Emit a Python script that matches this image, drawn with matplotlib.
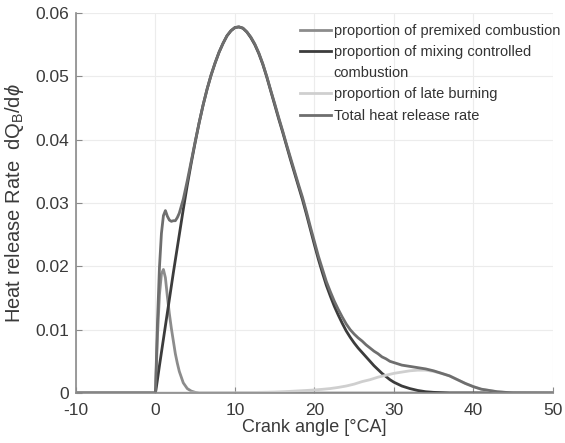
import matplotlib
matplotlib.use("Agg")
import matplotlib.pyplot as plt
from matplotlib.lines import Line2D

plt.rcParams['font.family'] = ['Liberation Sans', 'DejaVu Sans']
plt.rcParams['mathtext.fontset'] = 'custom'
plt.rcParams['mathtext.rm'] = 'Liberation Sans'
plt.rcParams['mathtext.it'] = 'Liberation Sans:italic'
plt.rcParams['axes.unicode_minus'] = False

# crank angle grids (deg CA)
x_main = [-10, 0, 0.25, 0.5, 0.75, 1, 1.25, 1.5, 1.75, 2, 2.25, 2.5, 2.75, 3,
          3.5, 4, 4.5, 5, 5.5, 6, 6.5, 7, 7.5, 8, 8.5, 9, 9.5, 10, 10.5, 11,
          11.5, 12, 12.5, 13, 13.5, 14, 14.5, 15, 15.5, 16, 16.5, 17, 17.5,
          18, 18.5, 19, 19.5, 20, 20.5, 21, 21.5, 22, 22.5, 23, 23.5, 24,
          24.5, 25, 25.5, 26, 26.5, 27, 27.5, 28, 28.5, 29, 29.5, 30, 31, 32,
          33, 34, 35, 36, 37, 38, 39, 40, 41, 42, 43, 44, 45, 50]

# mixing controlled combustion
mixing = [0, 0, 0.0021, 0.0043, 0.0064, 0.0085, 0.0106, 0.0127, 0.0148, 0.0169,
          0.0190, 0.0210, 0.0230, 0.0250, 0.0290, 0.0328, 0.0363, 0.0396,
          0.0427, 0.0455, 0.0480, 0.0502, 0.0521, 0.0538, 0.0552, 0.0564,
          0.0572, 0.0577, 0.0578, 0.0576, 0.0570, 0.0561, 0.0550, 0.0536,
          0.0519, 0.0499, 0.0477, 0.0455, 0.0433, 0.0412, 0.0390, 0.0368,
          0.0347, 0.0326, 0.0305, 0.0282, 0.0258, 0.0234, 0.0211, 0.0190,
          0.0170, 0.0153, 0.0137, 0.0123, 0.0110, 0.0098, 0.0088, 0.0079,
          0.0071, 0.0064, 0.0057, 0.0050, 0.0043, 0.0037, 0.0031, 0.0026,
          0.0021, 0.0017, 0.0011, 0.0007, 0.0004, 0.0002, 0.0001, 0.00005,
          0, 0, 0, 0, 0, 0, 0, 0, 0, 0]

# total heat release rate
total = [0, 0, 0.0111, 0.0198, 0.0252, 0.0280, 0.0288, 0.0279, 0.0273, 0.0271,
         0.0272, 0.0272, 0.0277, 0.0284, 0.0306, 0.0335, 0.0366, 0.0397,
         0.0427, 0.0455, 0.0480, 0.0502, 0.0521, 0.0538, 0.0552, 0.0564,
         0.0572, 0.0577, 0.0578, 0.0576, 0.0570, 0.0562, 0.0551, 0.0537,
         0.0520, 0.0500, 0.0478, 0.0457, 0.0435, 0.0414, 0.0392, 0.0371,
         0.0350, 0.0329, 0.0309, 0.0286, 0.0262, 0.0239, 0.0216, 0.0196,
         0.0176, 0.0160, 0.0145, 0.0132, 0.0120, 0.0109, 0.0100, 0.0093,
         0.0087, 0.0082, 0.0076, 0.0071, 0.0066, 0.0062, 0.0057, 0.0054,
         0.0050, 0.0048, 0.0044, 0.0042, 0.0040, 0.0038, 0.0035, 0.0031,
         0.0027, 0.0021, 0.0015, 0.0010, 0.0006, 0.0004, 0.0002, 0.0001,
         0.00003, 0]

# premixed combustion
x_pre = [-10, 0, 0.25, 0.5, 0.75, 1, 1.25, 1.5, 1.75, 2, 2.25, 2.5, 2.75, 3,
         3.5, 4, 4.5, 5, 5.5, 6, 50]
premixed = [0, 0, 0.0090, 0.0155, 0.0188, 0.0195, 0.0182, 0.0152, 0.0125,
            0.0102, 0.0082, 0.0062, 0.0047, 0.0034, 0.0016, 0.0007, 0.0003,
            0.0001, 0, 0, 0]

# late burning
x_late = [-10, 10, 12, 13, 14, 15, 16, 17, 18, 19, 20, 21, 22, 23, 24, 25, 26,
          27, 28, 29, 30, 31, 32, 33, 34, 35, 36, 37, 38, 39, 40, 41, 42, 43,
          44, 45, 50]
late = [0, 0, 0.00005, 0.0001, 0.00012, 0.00015, 0.0002, 0.00026, 0.00033,
        0.0004, 0.00048, 0.00058, 0.0007, 0.00088, 0.0011, 0.0014, 0.0018,
        0.0021, 0.0025, 0.0028, 0.0031, 0.0033, 0.0035, 0.0036, 0.0036,
        0.0034, 0.0031, 0.0027, 0.0021, 0.0015, 0.0010, 0.0006, 0.0004,
        0.0002, 0.0001, 0.00003, 0]

xticks = [-10, 0, 10, 20, 30, 40, 50]
yticks = [0, 0.01, 0.02, 0.03, 0.04, 0.05, 0.06]
ytick_labels = ['0', '0.01', '0.02', '0.03', '0.04', '0.05', '0.06']

fig = plt.figure(figsize=(5.65, 4.43), dpi=100)
ax = fig.add_axes([0.1345, 0.1129, 0.844, 0.8578])

lw = 2.0
l1, = ax.plot(x_pre, premixed, color='#8c8c8c', lw=lw)
l2, = ax.plot(x_main, mixing, color='#3c3c3c', lw=lw)
l3, = ax.plot(x_late, late, color='#cfcfcf', lw=lw)
l4, = ax.plot(x_main, total, color='#6e6e6e', lw=lw)

ax.set_xlim(-10, 50)
ax.set_ylim(0, 0.06)
ax.set_xticks(xticks)
ax.set_yticks(yticks)
ax.set_yticklabels(ytick_labels)
ax.grid(True, color='#ececec', lw=0.8)
ax.set_axisbelow(True)

for s in ['top', 'right']:
    ax.spines[s].set_visible(False)
for s in ['left', 'bottom']:
    ax.spines[s].set_color('#8a8a8a')
    ax.spines[s].set_linewidth(1.2)
ax.tick_params(direction='in', length=4, color='#8a8a8a', labelsize=12.5,
               labelcolor='#3a3a3a')
ax.tick_params(axis='x', pad=7)
ax.tick_params(axis='y', pad=5)

ax.set_xlabel('Crank angle [°CA]', fontsize=13, color='#3a3a3a', labelpad=1)
ax.set_ylabel(r'Heat release Rate  dQ$_\mathregular{B}$/d$\phi$', fontsize=14.5,
              color='#3a3a3a')
ax.yaxis.set_label_coords(-0.105, 0.5)

blank = Line2D([], [], color='none')
handles = [l1, l2, blank, l3, l4]
labels = ['proportion of premixed combustion',
          'proportion of mixing controlled',
          'combustion',
          'proportion of late burning',
          'Total heat release rate']
leg = ax.legend(handles, labels, loc='upper left', bbox_to_anchor=(0.470, 0.972),
                frameon=False, fontsize=10.5, handlelength=2.1, handletextpad=0.2,
                labelspacing=0.5, borderpad=0, borderaxespad=0)
for t in leg.get_texts():
    t.set_color('#333333')

fig.savefig('out.png', dpi=100)
